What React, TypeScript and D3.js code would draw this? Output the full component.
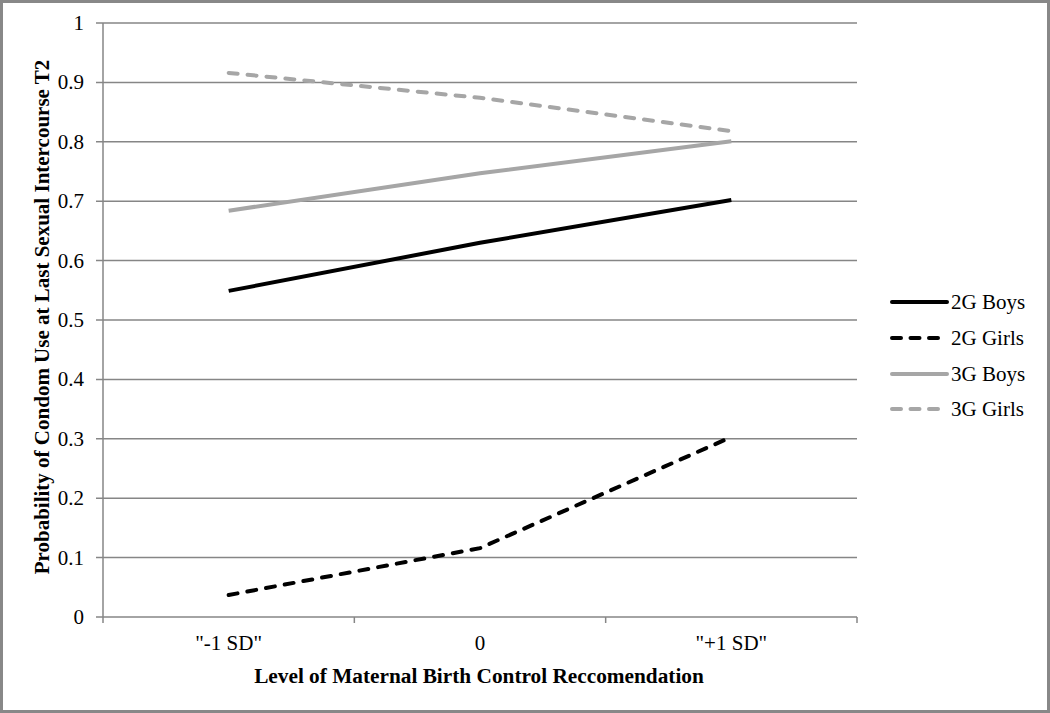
import React from "react";
import * as d3 from "d3";

const categories = ['"-1 SD"', "0", '"+1 SD"'];
const yTicks = [0, 0.1, 0.2, 0.3, 0.4, 0.5, 0.6, 0.7, 0.8, 0.9, 1];
const yTickLabels = ["0", "0.1", "0.2", "0.3", "0.4", "0.5", "0.6", "0.7", "0.8", "0.9", "1"];
const seriesNames = ["2G Boys", "2G Girls", "3G Boys", "3G Girls"];
const boys2G = [0.549, 0.63, 0.702];
const girls2G = [0.037, 0.116, 0.303];
const boys3G = [0.684, 0.747, 0.801];
const girls3G = [0.916, 0.874, 0.818];

const W = 1050, H = 713;
const left = 103, right = 857, top = 23, bottom = 617;

export default function App() {
  const x = d3.scaleBand<string>().domain(categories).range([left, right]);
  const y = d3.scaleLinear().domain([0, 1]).range([bottom, top]);
  const cx = (c: string) => (x(c) as number) + x.bandwidth() / 2;
  const series = [
    { name: seriesNames[0], vals: boys2G, color: "#000000", dash: null },
    { name: seriesNames[1], vals: girls2G, color: "#000000", dash: "9,10" },
    { name: seriesNames[2], vals: boys3G, color: "#a6a6a6", dash: null },
    { name: seriesNames[3], vals: girls3G, color: "#a6a6a6", dash: "9,10" },
  ];
  const line = d3.line<number>().x((_, i) => cx(categories[i])).y((v) => y(v));
  const font = "'Liberation Serif', 'Times New Roman', serif";
  const tickX = [left, ...categories.map((c) => (x(c) as number) + x.bandwidth())];
  const legendY = [302, 338, 374, 409];
  return (
    <svg width={W} height={H} style={{ position: "absolute", left: 0, top: 0 }} fontFamily={font}>
      <rect x={0} y={0} width={W} height={H} fill="#fff" />
      <rect x={1.5} y={1.5} width={W - 3} height={H - 3} fill="none" stroke="#888" strokeWidth={3} />
      {yTicks.map((t, i) => (
        <g key={i}>
          <line x1={left - 7} x2={right} y1={y(t)} y2={y(t)} stroke="#868686" strokeWidth={1.5} />
          <text x={84} y={y(t) + 7} textAnchor="end" fontSize={21} fill="#000">{yTickLabels[i]}</text>
        </g>
      ))}
      <line x1={left} x2={left} y1={top} y2={bottom} stroke="#868686" strokeWidth={1.5} />
      {tickX.map((tx, i) => (
        <line key={i} x1={tx} x2={tx} y1={bottom} y2={bottom + 6} stroke="#868686" strokeWidth={1.5} />
      ))}
      {categories.map((c) => (
        <text key={c} x={cx(c)} y={650} textAnchor="middle" fontSize={21} fill="#000">{c}</text>
      ))}
      <text x={479} y={683} textAnchor="middle" fontSize={21.3} fontWeight="bold" fill="#000">
        Level of Maternal Birth Control Reccomendation
      </text>
      <text transform={`translate(49,317) rotate(-90)`} textAnchor="middle" fontSize={21} fontWeight="bold" fill="#000">
        Probability of Condom Use at Last Sexual Intercourse T2
      </text>
      {series.map((s) => (
        <path key={s.name} d={line(s.vals) as string} fill="none" stroke={s.color} strokeWidth={4}
          strokeDasharray={s.dash ?? undefined} strokeLinecap={s.dash ? "round" : "butt"} />
      ))}
      {series.map((s, i) => {
        const ly = legendY[i];
        return (
          <g key={s.name}>
            <line x1={892} x2={947} y1={ly} y2={ly} stroke={s.color} strokeWidth={4}
              strokeDasharray={s.dash ? "9,9.5" : undefined} strokeLinecap="round" />
            <text x={951} y={ly + 7} fontSize={21} fill="#000">{s.name}</text>
          </g>
        );
      })}
    </svg>
  );
}
